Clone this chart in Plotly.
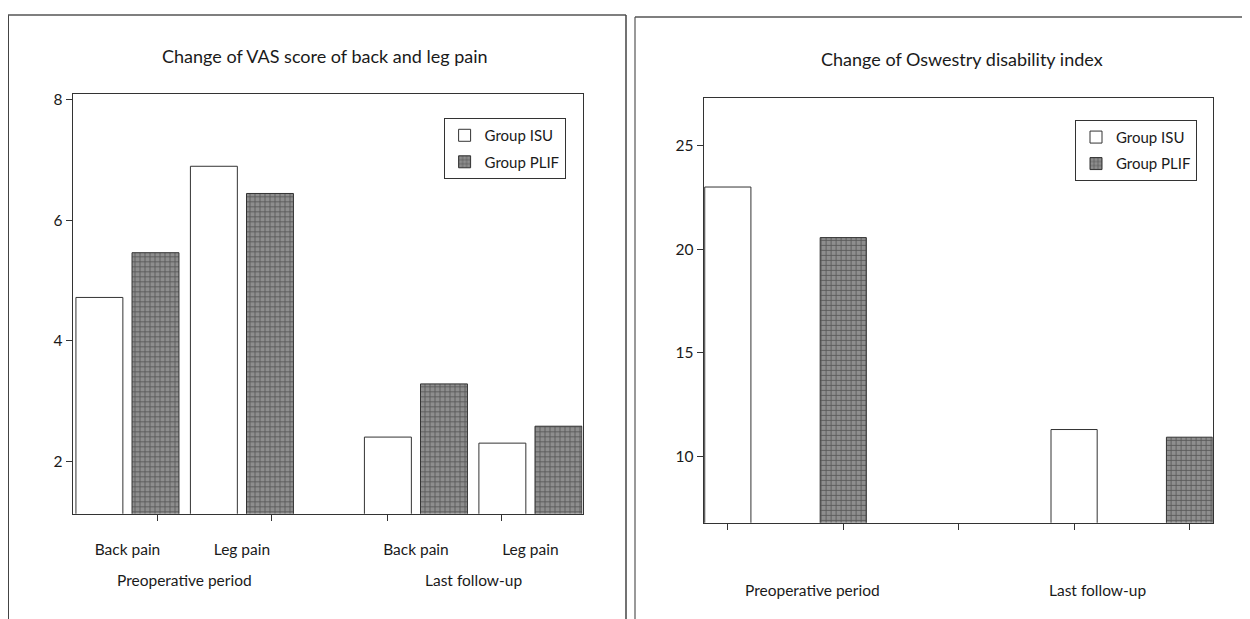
import plotly.graph_objects as go

# ---------------- data ----------------
series_names = ["Group ISU", "Group PLIF"]

# Left chart: VAS score
vas_periods = ["Preoperative period", "Last follow-up"]
vas_items = ["Back pain", "Leg pain"]
vas_isu = [4.72, 6.89, 2.41, 2.31]    # preop back, preop leg, follow back, follow leg
vas_plif = [5.46, 6.44, 3.29, 2.59]
vas_yticks = [2, 4, 6, 8]

# Right chart: Oswestry disability index
odi_periods = ["Preoperative period", "Last follow-up"]
odi_isu = [23.0, 11.3]
odi_plif = [20.56, 10.93]
odi_yticks = [10, 15, 20, 25]

titles = ["Change of VAS score of back and leg pain", "Change of Oswestry disability index"]

# ---------------- styling / layout ----------------
PAGE_OFF = 8                      # browser body margin
W, H = 1250 - PAGE_OFF, 619 - PAGE_OFF
FONT = "Lato, 'Open Sans', sans-serif"
LINE = "#333333"
TXT = "#1a1a1a"
PLIF_FILL = "#8e8e8e"
PLIF_PATTERN = dict(shape="+", fgcolor="#1c1c1c", bgcolor=PLIF_FILL, size=5, solidity=0.3)


def px_x(p):
    return (p - PAGE_OFF) / W


def px_y(p):
    return 1 - (p - PAGE_OFF) / H


fig = go.Figure()

# ---- left chart positions (computed from category indices) ----
group_gap = 0.52
pair_centers = []
for g, _ in enumerate(vas_periods):
    for i, _ in enumerate(vas_items):
        pair_centers.append(g * (len(vas_items) + group_gap) + i)
offset = 0.245
bw = 0.41

fig.add_trace(go.Bar(
    x=[c - offset for c in pair_centers], y=vas_isu, width=bw, name=series_names[0],
    marker=dict(color="white", line=dict(color=LINE, width=1)),
    xaxis="x", yaxis="y", legend="legend", legendgroup="a"))
fig.add_trace(go.Bar(
    x=[c + offset for c in pair_centers], y=vas_plif, width=bw, name=series_names[1],
    marker=dict(color=PLIF_FILL, pattern=PLIF_PATTERN, line=dict(color=LINE, width=1)),
    xaxis="x", yaxis="y", legend="legend", legendgroup="b"))

n_items = len(vas_items)
tick_marks = [c + (0.26 if k < n_items else -0.25) for k, c in enumerate(pair_centers)]
vas_labels = vas_items * len(vas_periods)

# ---- right chart positions ----
slots_per_group = 3
odi_x_isu = [g * slots_per_group for g in range(len(odi_periods))]
odi_x_plif = [g * slots_per_group + 1 for g in range(len(odi_periods))]
fig.add_trace(go.Bar(
    x=odi_x_isu, y=odi_isu, width=0.4, name=series_names[0],
    marker=dict(color="white", line=dict(color=LINE, width=1)),
    xaxis="x2", yaxis="y2", legend="legend2", legendgroup="c"))
fig.add_trace(go.Bar(
    x=odi_x_plif, y=odi_plif, width=0.4, name=series_names[1],
    marker=dict(color=PLIF_FILL, pattern=PLIF_PATTERN, line=dict(color=LINE, width=1)),
    xaxis="x2", yaxis="y2", legend="legend2", legendgroup="d"))

axis_common = dict(showline=True, linecolor=LINE, linewidth=1, mirror=True,
                   showgrid=False, zeroline=False,
                   tickfont=dict(family=FONT, size=15.5, color=TXT))

legend_common = dict(xanchor="left", yanchor="top", bgcolor="white", bordercolor=LINE,
                     borderwidth=1, tracegroupgap=4,
                     font=dict(family=FONT, size=15, color=TXT))

fig.update_layout(
    width=W, height=H, margin=dict(l=0, r=0, t=0, b=0),
    paper_bgcolor="white", plot_bgcolor="white",
    barmode="overlay", font=dict(family=FONT, color=TXT),
    xaxis=dict(domain=[px_x(72.5), px_x(582.5)], range=[-0.48, 3.975],
               tickmode="array", tickvals=pair_centers, ticktext=vas_labels, ticks="",
               ticklabelstandoff=22,
               minor=dict(tickmode="array", tickvals=tick_marks, ticks="outside", ticklen=6,
                          tickcolor=LINE),
               anchor="y", **axis_common),
    yaxis=dict(domain=[px_y(513), px_y(90)], range=[1.14, 8.08],
               tickmode="array", tickvals=vas_yticks, ticks="outside", ticklen=6, tickcolor=LINE,
               anchor="x", **axis_common),
    xaxis2=dict(domain=[px_x(703.6), px_x(1212.6)], range=[-0.21, 4.2],
                tickmode="array", tickvals=list(range(len(odi_periods) * slots_per_group - 1)),
                showticklabels=False, ticks="outside", ticklen=6, tickcolor=LINE,
                anchor="y2", **axis_common),
    yaxis2=dict(domain=[px_y(522), px_y(93.6)], range=[6.8, 27.3],
                tickmode="array", tickvals=odi_yticks, ticks="outside", ticklen=6, tickcolor=LINE,
                anchor="x2", **axis_common),
    legend=dict(x=px_x(443.6), y=px_y(113.9), **legend_common),
    legend2=dict(x=px_x(1075), y=px_y(115.7), **legend_common),
    showlegend=True,
)

annotations = []
# titles
annotations.append(dict(text=titles[0], x=px_x(325), y=px_y(51), xref="paper", yref="paper",
                        xanchor="center", yanchor="middle",
                        showarrow=False, font=dict(family=FONT, size=18, color=TXT)))
annotations.append(dict(text=titles[1], x=px_x(962), y=px_y(54), xref="paper", yref="paper",
                        xanchor="center", yanchor="middle",
                        showarrow=False, font=dict(family=FONT, size=18, color=TXT)))
# group labels left
for g, name in enumerate(vas_periods):
    cs = pair_centers[g * n_items:(g + 1) * n_items]
    annotations.append(dict(text=name, x=sum(cs) / len(cs), y=px_y(580), xref="x", yref="paper",
                            xanchor="center", yanchor="middle",
                            showarrow=False, font=dict(family=FONT, size=15.5, color=TXT)))
# group labels right
for g, name in enumerate(odi_periods):
    xc = (odi_x_isu[g] + odi_x_plif[g]) / 2 + (0.235 if g == 0 else -0.3)
    annotations.append(dict(text=name, x=xc, y=px_y(590), xref="x2", yref="paper",
                            xanchor="center", yanchor="middle",
                            showarrow=False, font=dict(family=FONT, size=15.5, color=TXT)))
fig.update_layout(annotations=annotations)

# panel frames
shapes = [
    dict(type="line", xref="paper", yref="paper", x0=px_x(8), x1=px_x(8), y0=px_y(10), y1=0,
         line=dict(color="#444", width=2)),
    dict(type="line", xref="paper", yref="paper", x0=px_x(8), x1=px_x(626), y0=px_y(10), y1=px_y(10),
         line=dict(color="#555", width=1.5)),
    dict(type="line", xref="paper", yref="paper", x0=px_x(626), x1=px_x(626), y0=px_y(10), y1=0,
         line=dict(color="#444", width=1.5)),
    dict(type="line", xref="paper", yref="paper", x0=px_x(635), x1=px_x(635), y0=px_y(12), y1=0,
         line=dict(color="#555", width=1.2)),
    dict(type="line", xref="paper", yref="paper", x0=px_x(635), x1=1, y0=px_y(12), y1=px_y(12),
         line=dict(color="#555", width=1.5)),
]
fig.update_layout(shapes=shapes)

fig.write_html("out.html")
